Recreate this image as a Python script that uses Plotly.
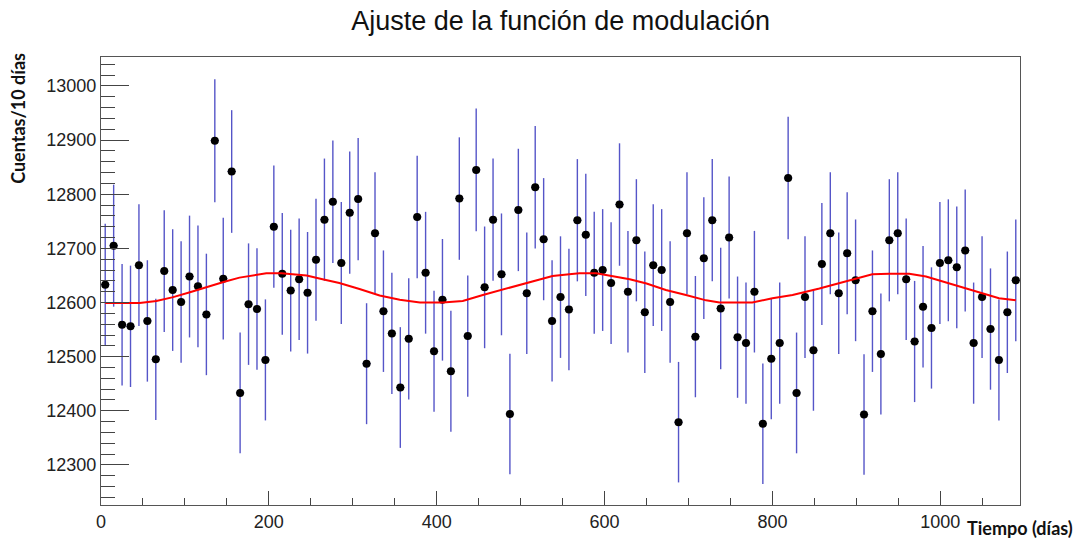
import numpy as np
import plotly.graph_objects as go

# Histogram binning: 109 bins between 0 and 1095 days
n_bins = 109
x_min, x_max = 0, 1095

counts = [12633, 12705, 12559, 12556, 12669, 12566, 12495, 12658, 12623, 12601,
          12648, 12630, 12578, 12899, 12644, 12842, 12433, 12597, 12588, 12494,
          12740, 12653, 12622, 12643, 12618, 12679, 12753, 12786, 12673, 12766,
          12791, 12487, 12728, 12584, 12543, 12443, 12533, 12758, 12655, 12510,
          12605, 12473, 12792, 12538, 12845, 12628, 12753, 12652, 12394, 12771,
          12617, 12813, 12717, 12566, 12610, 12587, 12752, 12725, 12655, 12660,
          12636, 12781, 12620, 12715, 12582, 12669, 12660, 12601, 12379, 12728,
          12537, 12682, 12752, 12589, 12720, 12536, 12525, 12620, 12376, 12496,
          12525, 12830, 12433, 12610, 12512, 12671, 12728, 12617, 12691, 12641,
          12393, 12584, 12505, 12715, 12728, 12643, 12528, 12592, 12553, 12673,
          12678, 12665, 12696, 12525, 12610, 12551, 12494, 12582, 12641]

errors = [112.4, 112.7, 112.1, 112.1, 112.6, 112.1, 111.8, 112.5, 112.4, 112.3,
          112.5, 112.4, 112.2, 113.6, 112.4, 113.3, 111.5, 112.2, 112.2, 111.8,
          112.9, 112.5, 112.3, 112.4, 112.3, 112.6, 112.9, 113.1, 112.6, 113.0,
          113.1, 111.7, 112.8, 112.2, 112.0, 111.5, 112.0, 113.0, 112.5, 111.8,
          112.3, 111.7, 113.1, 112.0, 113.3, 112.4, 112.9, 112.5, 111.3, 113.0,
          112.3, 113.2, 112.8, 112.1, 112.3, 112.2, 112.9, 112.8, 112.5, 112.5,
          112.4, 113.1, 112.3, 112.8, 112.2, 112.6, 112.5, 112.3, 111.3, 112.8,
          112.0, 112.6, 112.9, 112.2, 112.8, 112.0, 111.9, 112.3, 111.2, 111.8,
          111.9, 113.3, 111.5, 112.3, 111.9, 112.6, 112.8, 112.3, 112.7, 112.4,
          111.3, 112.2, 111.8, 112.8, 112.8, 112.4, 111.9, 112.2, 112.0, 112.6,
          112.6, 112.5, 112.7, 111.9, 112.3, 112.0, 111.8, 112.2, 112.4]

# Fitted modulation curve
curve_days = [5, 46, 66, 86, 106, 126, 146, 165, 185, 197, 215, 245, 264, 284,
              308, 332, 356, 380, 407, 431, 455, 483, 507, 538, 558, 570, 590,
              610, 630, 650, 673, 697, 721, 737, 776, 800, 824, 856, 880, 896,
              919, 939, 963, 983, 1007, 1031, 1054, 1070, 1090]
curve_vals = [12599, 12599, 12603, 12610, 12619, 12629, 12638, 12646, 12651, 12654,
              12654, 12650, 12643, 12636, 12625, 12613, 12605, 12600, 12600, 12603,
              12614, 12626, 12637, 12649, 12652, 12654, 12654, 12649, 12643, 12635,
              12623, 12614, 12604, 12600, 12600, 12608, 12614, 12626, 12636, 12643,
              12652, 12653, 12653, 12648, 12637, 12625, 12614, 12608, 12604]

title_text = "Ajuste de la función de modulación"
x_title = "Tiempo (días)"
y_title = "Cuentas/10 días"

edges = np.linspace(x_min, x_max, n_bins + 1)
centers = 0.5 * (edges[:-1] + edges[1:])
half_width = 0.5 * (edges[1] - edges[0])

fig = go.Figure()

fig.add_trace(go.Scatter(
    x=centers, y=counts, mode="markers",
    marker=dict(color="black", size=8, symbol="circle"),
    error_y=dict(type="data", array=errors, visible=True,
                 color="rgb(85,85,200)", thickness=1.4, width=0),
    error_x=dict(type="constant", value=half_width, visible=True,
                 color="rgb(40,40,120)", thickness=1, width=0),
    showlegend=False, hoverinfo="x+y",
))

fig.add_trace(go.Scatter(
    x=curve_days, y=curve_vals, mode="lines",
    line=dict(color="#ff0000", width=2),
    showlegend=False,
))

axis_font = dict(family="Liberation Sans, Arial, sans-serif", size=18, color="#222")

fig.update_layout(
    width=1078, height=544,
    margin=dict(l=101, r=58, t=57, b=31),
    paper_bgcolor="white", plot_bgcolor="white",
    title=dict(text=title_text, x=0.52, xanchor="center", y=0.962, yanchor="middle",
               yref="container",
               font=dict(family="Liberation Sans, Arial, sans-serif", size=27, color="#111")),
    xaxis=dict(range=[x_min, x_max], tick0=0, dtick=200, ticks="inside",
               ticklen=14, tickcolor="#444", tickwidth=1, tickformat="d",
               showline=True, linecolor="#555", linewidth=1, mirror=True,
               showgrid=False, zeroline=False, tickfont=axis_font,
               minor=dict(dtick=50, ticks="inside", ticklen=7, tickcolor="#444", showgrid=False)),
    yaxis=dict(range=[12226, 13053.5], tick0=12300, dtick=100, ticks="inside",
               ticklen=28, tickcolor="#444", tickwidth=1, tickformat="d",
               showline=True, linecolor="#555", linewidth=1, mirror=True,
               showgrid=False, zeroline=False, tickfont=axis_font,
               minor=dict(dtick=20, ticks="inside", ticklen=14, tickcolor="#444", showgrid=False)),
    annotations=[
        dict(text="<b>" + y_title + "</b>", xref="paper", yref="paper",
             x=-0.0903, y=0.862, textangle=-90, showarrow=False,
             xanchor="center", yanchor="middle",
             font=dict(family="Lato, Open Sans, sans-serif", size=18, color="#111")),
        dict(text="<b>" + x_title + "</b>", xref="paper", yref="paper",
             x=1.0, y=-0.052, showarrow=False,
             xanchor="center", yanchor="middle",
             font=dict(family="Lato, Open Sans, sans-serif", size=18, color="#111")),
    ],
)

fig.write_html("out.html")
